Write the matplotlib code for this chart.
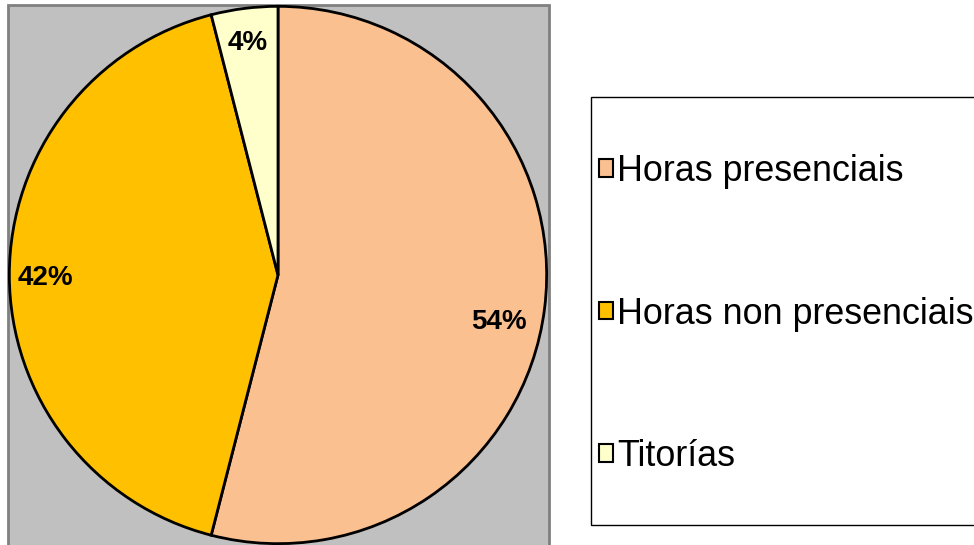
import numpy as np
import matplotlib.pyplot as plt
from matplotlib.patches import Rectangle

plt.rcParams['font.family'] = ['Liberation Sans', 'DejaVu Sans']

## Data
labels = ['Horas presenciais', 'Horas non presenciais', 'Titorías']
values = [54, 42, 4]
colors = ['#FAC090', '#FFC000', '#FFFFCC']
# label placement (angle in deg, radius) like the Excel "best fit" one
label_pos = [(-12, 0.84), (180.7, 0.865), (97.5, 0.87)]

W, H = 974, 545
fig = plt.figure(figsize=(W / 100, H / 100), dpi=100)

# grey plot area
fig.patches.append(Rectangle((8 / W, -0.02), 541 / W, (H - 5) / H + 0.02,
                             transform=fig.transFigure, facecolor='#C0C0C0',
                             edgecolor='#808080', linewidth=2, zorder=-1))

cx, cy, r = 278, 275, 270
ax = fig.add_axes([(cx - r) / W, (H - cy - r) / H, 2 * r / W, 2 * r / H])
ax.set_facecolor('none')
wedges, _ = ax.pie(values, colors=colors, startangle=90, counterclock=False,
                   wedgeprops=dict(edgecolor='black', linewidth=2))
ax.set_xlim(-1.005, 1.005)
ax.set_ylim(-1.005, 1.005)
ax.set_aspect('equal')
ax.axis('off')

for v, (ang, rr) in zip(values, label_pos):
    a = np.deg2rad(ang)
    ax.text(rr * np.cos(a), rr * np.sin(a), '%d%%' % v, ha='center', va='center',
            fontsize=20, fontweight='bold')

# legend frame
lx, ly, lb = 591, 97, 525
fig.patches.append(Rectangle((lx / W, 1 - lb / H), (W - lx + 20) / W, (lb - ly) / H,
                             transform=fig.transFigure, facecolor='white',
                             edgecolor='black', linewidth=1, zorder=-1))
leg = fig.legend(wedges, labels, loc='center left',
                 bbox_to_anchor=((lx + 8) / W, 1 - 314 / H), frameon=False,
                 fontsize=25.8, labelspacing=3.0, handlelength=0.38, handleheight=0.38,
                 handletextpad=0.13, borderpad=0, borderaxespad=0)
for h in leg.legend_handles:
    h.set_linewidth(1.5)

fig.savefig('out.png', dpi=100)
